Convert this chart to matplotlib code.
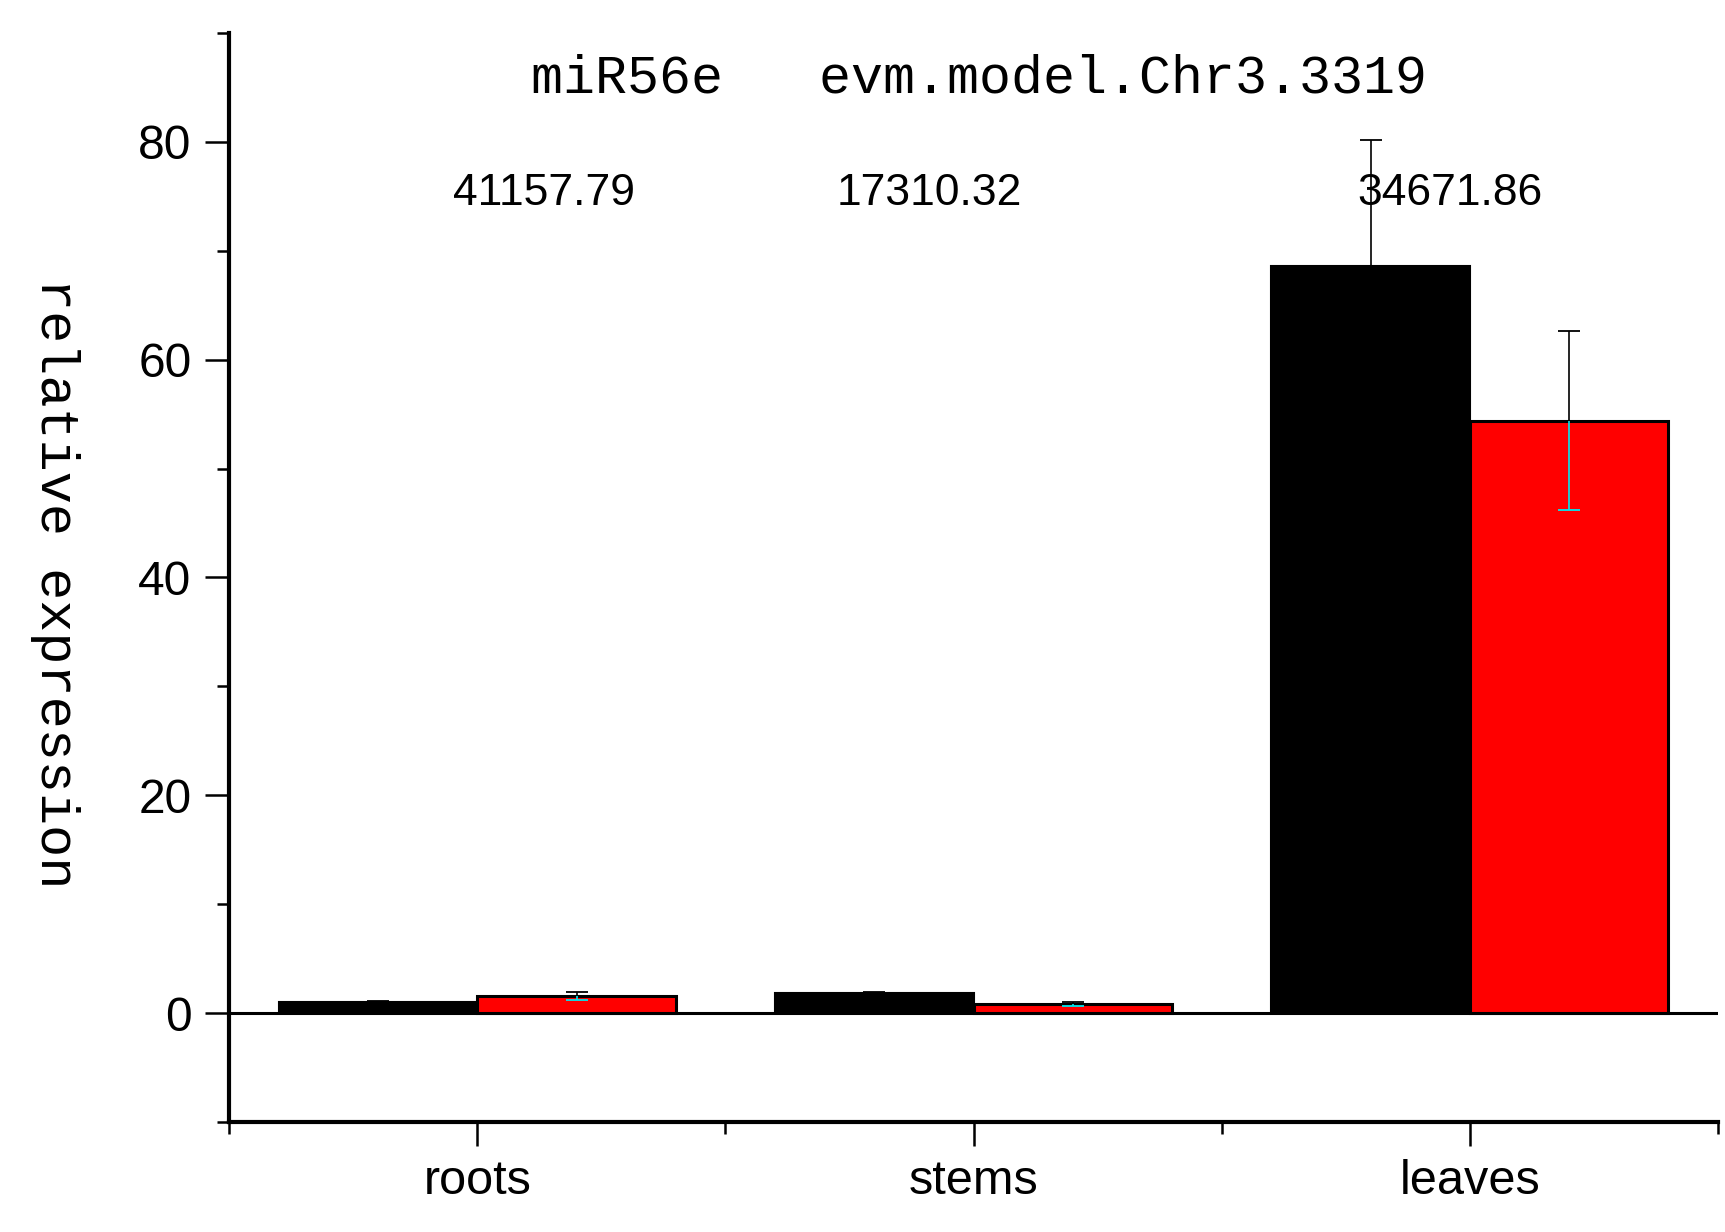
import numpy as np  # Arrays for bar positions
import matplotlib
matplotlib.use("Agg")
import matplotlib.pyplot as plt  # Library for creating graphs
from matplotlib.ticker import MultipleLocator, FixedLocator

# Chart data
tissues = ["roots", "stems", "leaves"]
mirna_values = [1.05, 1.8, 68.6]
mirna_errors = [0.06, 0.1, 11.6]
target_values = [1.55, 0.83, 54.4]
target_errors = [0.36, 0.15, 8.2]
value_labels = ["41157.79", "17310.32", "34671.86"]
title_text = "miR56e   evm.model.Chr3.3319"
y_label = "relative expression"

# Figure and axes, placed like the original
fig = plt.figure(figsize=(17.25, 12.32), dpi=100)
ax = fig.add_axes([0.1328, 0.0893, 0.8632, 0.8839])

x = np.arange(1, len(tissues) + 1)
width = 0.4

# Zero line across the plot
ax.axhline(0, color="black", linewidth=2.2, zorder=1)

# Drawing the two bar series
ax.bar(x - width / 2, mirna_values, width, color="black", edgecolor="black", linewidth=1.5, zorder=2)
ax.bar(x + width / 2, target_values, width, color="#FF0000", edgecolor="black", linewidth=2.2, zorder=2)

# Error bars: upper half black, lower half drawn in the "inverse" colour of the bar
def draw_errors(xs, ys, errs, low_color):
    ys = np.array(ys)
    errs = np.array(errs)
    ax.vlines(xs, ys, ys + errs, color="black", linewidth=1.2, zorder=3)
    ax.plot(xs, ys + errs, ls="none", marker="_", ms=16.5, mew=1.3, color="black", zorder=3)
    ax.vlines(xs, ys - errs, ys, color=low_color, linewidth=1.2, zorder=3)
    ax.plot(xs, ys - errs, ls="none", marker="_", ms=16.5, mew=1.3, color=low_color, zorder=3)

draw_errors(x - width / 2, mirna_values, mirna_errors, "black")
draw_errors(x + width / 2, target_values, target_errors, "#00E8F0")

# Axis limits
ax.set_xlim(0.5, 3.5)
ax.set_ylim(-10, 90)

# Spines: only left and bottom
for side in ["top", "right"]:
    ax.spines[side].set_visible(False)
for side in ["left", "bottom"]:
    ax.spines[side].set_linewidth(3)

# Ticks
ax.yaxis.set_major_locator(MultipleLocator(20))
ax.yaxis.set_minor_locator(FixedLocator([-10, 10, 30, 50, 70, 90]))
ax.set_xticks(x)
ax.set_xticklabels(tissues)
ax.xaxis.set_minor_locator(FixedLocator([0.5, 1.5, 2.5, 3.5]))
ax.tick_params(which="major", length=17, width=1.8, direction="out")
ax.tick_params(which="minor", length=8.5, width=1.8, direction="out")
ax.tick_params(axis="y", which="major", pad=10)
ax.tick_params(axis="x", which="major", pad=10)
for lab in ax.get_yticklabels():
    lab.set_fontfamily("Liberation Sans")
    lab.set_fontsize(34.5)
for lab in ax.get_xticklabels():
    lab.set_fontfamily("Liberation Sans")
    lab.set_fontsize(35)

# Y label in a monospaced serif-like face
ax.set_ylabel(y_label, family="Liberation Mono", fontsize=38.5, rotation=270,
              ha="center", va="center")
ax.yaxis.set_label_coords(-0.117, 0.495)

# Title inside the plot area
ax.text(2.01, 85.8, title_text, family="Liberation Mono", fontsize=38.3,
        ha="center", va="center")

# Numbers written above each group
label_x = [1.134, 1.911, 2.96]
for lx, txt in zip(label_x, value_labels):
    ax.text(lx, 75.3, txt, family="Liberation Sans", fontsize=32, ha="center", va="center")

fig.savefig("out.png", dpi=100)
